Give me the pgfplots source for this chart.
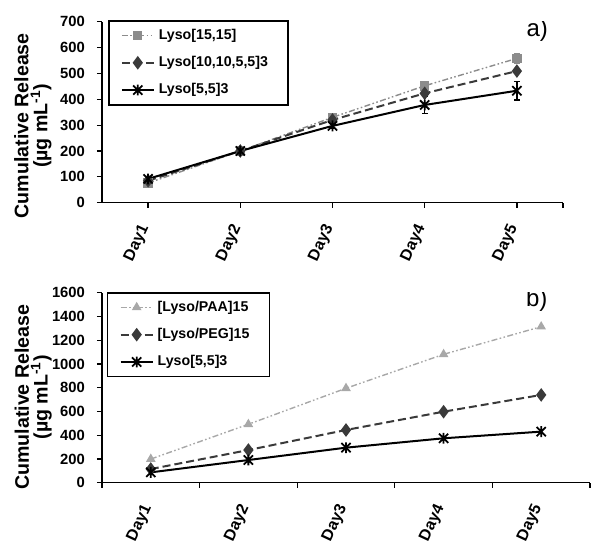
\documentclass[border=0pt]{standalone}
\usepackage{fontspec}
\setmainfont{Liberation Sans}
\usepackage{pgfplots}
\pgfplotsset{compat=1.18}
\pgfdeclareplotmark{xstar}{%
 \pgfpathmoveto{\pgfqpoint{-.85\pgfplotmarksize}{-.85\pgfplotmarksize}}\pgfpathlineto{\pgfqpoint{.85\pgfplotmarksize}{.85\pgfplotmarksize}}%
 \pgfpathmoveto{\pgfqpoint{-.85\pgfplotmarksize}{.85\pgfplotmarksize}}\pgfpathlineto{\pgfqpoint{.85\pgfplotmarksize}{-.85\pgfplotmarksize}}%
 \pgfpathmoveto{\pgfqpoint{0pt}{-\pgfplotmarksize}}\pgfpathlineto{\pgfqpoint{0pt}{\pgfplotmarksize}}%
 \pgfusepathqstroke}
\definecolor{lgray}{HTML}{8C8C8C}
\definecolor{vlgray}{HTML}{A8A8A8}
\definecolor{dgray}{HTML}{3A3A3A}
\pgfplotsset{
  common/.style={
    scale only axis,
    axis x line*=bottom, axis y line*=left,
    axis line style={line width=0.8pt,-},
    tick align=outside, major tick length=2.5pt,
    tick style={line width=0.6pt, black},
    /pgf/number format/assume math mode=true,
    /pgf/number format/1000 sep={},
    yticklabel style={font=\bfseries\fontsize{7.4}{8}\selectfont, xshift=-2.5pt},
    xtick={1,2,3,4,5},
    xticklabels={Day1,Day2,Day3,Day4,Day5},
    xticklabel style={font=\bfseries\fontsize{8}{9}\selectfont, yshift=-6pt, rotate=65, anchor=east},
    xmin=0.5, xmax=5.5,
    ylabel={Cumulative Release\\(µg mL\textsuperscript{-1})},
    ylabel style={align=center, font=\bfseries\fontsize{9.8}{9.4}\selectfont, anchor=center},
    legend cell align=left,
    legend style={draw=black, line width=0.8pt, font=\bfseries\fontsize{7.1}{7.8}\selectfont,
      inner xsep=6pt, inner ysep=2pt, row sep=3pt, anchor=north west},
    legend image code/.code={\draw[mark repeat=2,mark phase=2] plot coordinates {(0pt,0pt) (8pt,0pt) (16pt,0pt)};},
  },
  s15/.style={color=lgray, line width=0.7pt, dash pattern=on 3pt off 1.2pt on 0.8pt off 1.2pt on 0.8pt off 1.2pt, mark=square*, mark size=2pt, mark options={solid, fill=lgray}},
  sdia/.style={color=dgray, line width=1pt, dash pattern=on 4pt off 2pt, mark=diamond*, mark size=2.6pt, mark options={solid, fill=dgray}},
  sstar/.style={color=black, line width=1pt, solid, mark=xstar, mark size=2.7pt, mark options={solid, line width=0.9pt}},
  spaa/.style={color=vlgray, line width=0.7pt, dash pattern=on 3pt off 1.2pt on 0.8pt off 1.2pt on 0.8pt off 1.2pt, mark=triangle*, mark size=2.1pt, mark options={solid, fill=vlgray}},
}
\begin{document}
\begin{tikzpicture}
\useasboundingbox (0,0) rectangle (300pt,-274.5pt);
% Panel a
\begin{axis}[common,
  at={(51pt,-10.85pt)}, anchor=north west,
  width=230.5pt, height=90.5pt,
  ymin=0, ymax=700, ytick={0,100,...,700},
  extra x ticks={5.5}, extra x tick labels={},
  ylabel style={at={(axis description cs:-0.150,0.425)}},
  legend style={at={(rel axis cs:0.013,1.009)}},
  error bars/error bar style={line width=0.6pt, solid},
  error bars/error mark options={rotate=90, mark size=1.5pt, line width=0.6pt},
]
\addplot+[s15, error bars/.cd, y dir=both, y explicit] coordinates {
 (1,76) +- (0,4) (2,200) +- (0,4) (3,330) +- (0,6) (4,452) +- (0,12) (5,558) +- (0,18)};
\addlegendentry{Lyso[15,15]}
\addplot+[sdia] coordinates {(1,85) (2,200) (3,320) (4,423) (5,509)};
\addlegendentry{Lyso[10,10,5,5]3\hspace*{2pt}}
\addplot+[sstar, error bars/.cd, y dir=both, y explicit] coordinates {
 (1,92) +- (0,3) (2,200) +- (0,4) (3,297) +- (0,8) (4,378) +- (0,34) (5,433) +- (0,36)};
\addlegendentry{Lyso[5,5]3}
\node[font=\fontsize{12}{13}\selectfont] at (rel axis cs:0.944,0.950) {a)};
\end{axis}
% Panel b
\begin{axis}[common,
  at={(51pt,-146.35pt)}, anchor=north west,
  width=244pt, height=95pt,
  ymin=0, ymax=1600, ytick={0,200,...,1600},
  major x tick style={draw=none},
  minor xtick={0.5,1.5,...,5.5},
  minor tick length=2.5pt,
  minor x tick style={line width=0.6pt, black},
  ylabel style={at={(axis description cs:-0.141,0.45)}},
  legend style={at={(rel axis cs:0.010,1.004)}},
]
\addplot+[spaa] coordinates {(1,199) (2,492) (3,795) (4,1081) (5,1314)};
\addlegendentry{[Lyso/PAA]15}
\addplot+[sdia] coordinates {(1,115) (2,275) (3,444) (4,598) (5,739)};
\addlegendentry{[Lyso/PEG]15\hspace*{2pt}}
\addplot+[sstar] coordinates {(1,87) (2,191) (3,295) (4,374) (5,430)};
\addlegendentry{Lyso[5,5]3}
\node[font=\fontsize{12}{13}\selectfont] at (rel axis cs:0.891,0.958) {b)};
\end{axis}
\end{tikzpicture}
\end{document}
